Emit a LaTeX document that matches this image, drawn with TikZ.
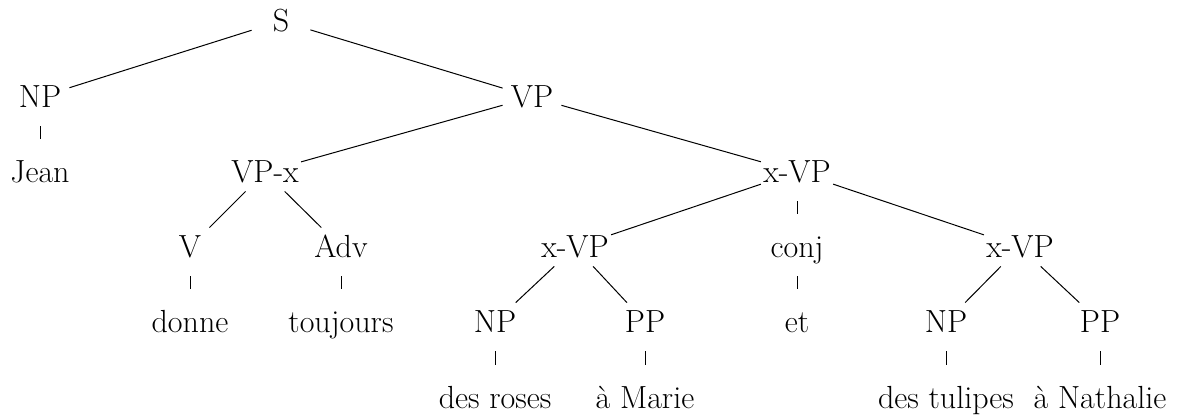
\documentclass[tikz,border=0pt]{standalone}
\begin{document}
\begin{tikzpicture}[x=0.5pt,y=-0.5pt,
  tn/.style={rectangle, anchor=base, minimum width=29pt, text height=11pt, text depth=0pt,
             inner xsep=1pt, inner ysep=4pt, font=\fontsize{16}{19}\selectfont},
  br/.style={line width=0.5pt},
  tk/.style={line width=0.42pt, shorten <=5pt, shorten >=7pt}]
\useasboundingbox (0,0) rectangle (1179,415);
% level 1
\node[tn] (s) at (281,32) {S};
% level 2
\node[tn] (np1) at (40,108) {NP};
\node[tn] (vp1) at (532,108) {VP};
% level 3
\node[tn] (jean) at (40,183) {Jean};
\node[tn] (vpx) at (265,183) {VP-x};
\node[tn] (xvp1) at (797,183) {x-VP};
% level 4
\node[tn] (v) at (190,258) {V};
\node[tn] (adv) at (341,258) {Adv};
\node[tn] (xvp2) at (575,258) {x-VP};
\node[tn] (conj) at (797,258) {conj};
\node[tn] (xvp3) at (1020,258) {x-VP};
% level 5
\node[tn] (donne) at (190,333) {donne};
\node[tn] (toujours) at (341,333) {toujours};
\node[tn] (np2) at (495,333) {NP};
\node[tn] (pp2) at (645,333) {PP};
\node[tn] (et) at (797,333) {et};
\node[tn] (np3) at (946,333) {NP};
\node[tn] (pp3) at (1100,333) {PP};
% level 6
\node[tn] (roses) at (495,409) {des roses};
\node[tn] (marie) at (645,409) {à Marie};
\node[tn] (tulipes) at (946,409) {des tulipes};
\node[tn] (nathalie) at (1100,409) {à Nathalie};
% branches
\draw[br] (s) -- (np1);
\draw[br] (s) -- (vp1);
\draw[tk] (np1) -- (jean);
\draw[br] (vp1) -- (vpx);
\draw[br] (vp1) -- (xvp1);
\draw[br] (vpx) -- (v);
\draw[br] (vpx) -- (adv);
\draw[br] (xvp1) -- (xvp2);
\draw[tk] (xvp1) -- (conj);
\draw[br] (xvp1) -- (xvp3);
\draw[tk] (v) -- (donne);
\draw[tk] (adv) -- (toujours);
\draw[br] (xvp2) -- (np2);
\draw[br] (xvp2) -- (pp2);
\draw[tk] (conj) -- (et);
\draw[br] (xvp3) -- (np3);
\draw[br] (xvp3) -- (pp3);
\draw[tk] (np2) -- (roses);
\draw[tk] (pp2) -- (marie);
\draw[tk] (np3) -- (tulipes);
\draw[tk] (pp3) -- (nathalie);
\end{tikzpicture}
\end{document}
